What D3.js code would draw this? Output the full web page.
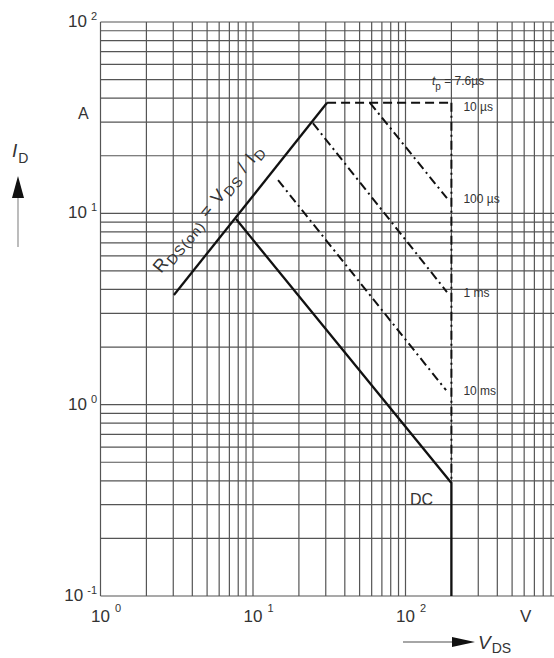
<!DOCTYPE html>
<html>
<head>
<meta charset="utf-8">
<script src="https://cdn.jsdelivr.net/npm/d3@7"></script>
<style>
  body { margin: 0; background: #fff; }
  text { font-family: "Liberation Sans", Arial, sans-serif; fill: #333; }
</style>
</head>
<body>
<script>
/********************************************************/
// Safe operating area values (V, A)

const vdsTicks = [1, 10, 100];
const vdsExp = ["0", "1", "2"];
const idTicks = [0.1, 1, 10, 100];
const idExp = ["-1", "0", "1", "2"];

// R_DS(on) limit
const rdsV = [3.03, 30.6];
const rdsI = [3.74, 37.8];

// tp = 10 us, flat current limit
const us10V = [30.6, 200];
const us10I = [37.8, 37.8];

// tp = 7.6 us, voltage limit
const tpV = [200, 200];
const tpI = [37.8, 0.39];

const us100V = [58.5, 187];
const us100I = [37.8, 12.0];

const ms1V = [24.7, 187];
const ms1I = [29.6, 3.88];

const ms10V = [14.6, 184.5];
const ms10I = [14.9, 1.19];

const dcV = [7.74, 200, 200];
const dcI = [9.33, 0.39, 0.1];

const pulseLabels = ["10 µs", "100 µs", "1 ms", "10 ms"];
const pulseLabelI = [37.8, 12.0, 3.88, 1.19];

/********************************************************/
const svgWidth = 554;
const svgHeight = 658;

const svg = d3
  .select("body")
  .append("svg")
  .attr("width", svgWidth)
  .attr("height", svgHeight);

/************** scales ************/
const xScale = d3.scaleLog().domain([1, 1000]).range([100.5, 558]);
const yScale = d3.scaleLog().domain([0.1, 100]).range([596, 22]);

const zip = (xs, ys) => xs.map((v, i) => [v, ys[i]]);

/************** grid ************/
const xGrid = [];
const yGrid = [];
for (let e = 0; e < 3; e++) for (let m = 1; m <= 9; m++) xGrid.push(m * Math.pow(10, e));
for (let e = -1; e < 2; e++) for (let m = 1; m <= 9; m++) yGrid.push(m * Math.pow(10, e));
yGrid.push(100);

const grid = svg.append("g").attr("stroke", "#555").attr("stroke-width", 1.2);

grid.selectAll(".vline")
  .data(xGrid)
  .enter()
  .append("line")
  .attr("x1", (d) => xScale(d))
  .attr("x2", (d) => xScale(d))
  .attr("y1", yScale(100))
  .attr("y2", yScale(0.1));

grid.selectAll(".hline")
  .data(yGrid)
  .enter()
  .append("line")
  .attr("x1", xScale(1))
  .attr("x2", xScale(1000))
  .attr("y1", (d) => yScale(d))
  .attr("y2", (d) => yScale(d));

/************** tick labels ************/
const yLab = svg.selectAll(".ylab")
  .data(idTicks)
  .enter()
  .append("text")
  .attr("x", 97)
  .attr("y", (d) => yScale(d) + 5)
  .attr("text-anchor", "end")
  .attr("font-size", "17px");
yLab.append("tspan").text("10");
yLab.append("tspan")
  .text((d, i) => idExp[i])
  .attr("dx", 4)
  .attr("dy", -7)
  .attr("font-size", "11px");

const xLab = svg.selectAll(".xlab")
  .data(vdsTicks)
  .enter()
  .append("text")
  .attr("x", (d) => xScale(d) - 9.5)
  .attr("y", 622)
  .attr("font-size", "17px");
xLab.append("tspan").text("10");
xLab.append("tspan")
  .text((d, i) => vdsExp[i])
  .attr("dx", 5)
  .attr("dy", -10)
  .attr("font-size", "11px");

svg.append("text").text("V").attr("x", 520).attr("y", 622).attr("font-size", "17px");
svg.append("text").text("A").attr("x", 78).attr("y", 119).attr("font-size", "16px");

/************** axis titles + arrows ************/
const idTitle = svg.append("text").attr("x", 12).attr("y", 157).attr("font-size", "19px");
idTitle.append("tspan").text("I").attr("font-style", "italic");
idTitle.append("tspan").text("D").attr("font-size", "14px").attr("dy", 6).attr("dx", 1);

svg.append("line")
  .attr("x1", 18).attr("x2", 18).attr("y1", 247).attr("y2", 196)
  .attr("stroke", "#999").attr("stroke-width", 1.3);
svg.append("path").attr("d", "M12,198 L18,176 L24,198 Z").attr("fill", "#111");

const vdsTitle = svg.append("text").attr("x", 478).attr("y", 649).attr("font-size", "19px");
vdsTitle.append("tspan").text("V").attr("font-style", "italic");
vdsTitle.append("tspan").text("DS").attr("font-size", "14px").attr("dy", 4).attr("dx", 1);

svg.append("line")
  .attr("x1", 403).attr("x2", 454).attr("y1", 642).attr("y2", 642)
  .attr("stroke", "#888").attr("stroke-width", 1.3);
svg.append("path").attr("d", "M452,637 L475,642 L452,647 Z").attr("fill", "#111");

/************** curves ************/
const line = d3.line()
  .x((d) => xScale(d[0]))
  .y((d) => yScale(d[1]));

const curves = svg.append("g").attr("fill", "none").attr("stroke", "#111");

curves.append("path").attr("d", line(zip(rdsV, rdsI))).attr("stroke-width", 2.3);
curves.append("path").attr("d", line(zip(dcV, dcI))).attr("stroke-width", 2.3);

curves.append("path")
  .attr("d", line(zip(us10V, us10I)))
  .attr("stroke-width", 2)
  .attr("stroke-dasharray", "9,5");

[zip(tpV, tpI), zip(us100V, us100I), zip(ms1V, ms1I), zip(ms10V, ms10I)].forEach((pts) => {
  curves.append("path")
    .attr("d", line(pts))
    .attr("stroke-width", 2)
    .attr("stroke-dasharray", "9,4,2,4");
});

/************** curve labels ************/
svg.selectAll(".plab")
  .data(pulseLabels)
  .enter()
  .append("text")
  .text((d) => d)
  .attr("x", xScale(200) + 12)
  .attr("y", (d, i) => yScale(pulseLabelI[i]) + (i === 0 ? 8 : 5))
  .attr("font-size", "12px");

const tpLab = svg.append("text").attr("x", 432).attr("y", 85).attr("font-size", "12px");
tpLab.append("tspan").text("t").attr("font-style", "italic");
tpLab.append("tspan").text("p").attr("font-size", "10px").attr("dy", 5);
tpLab.append("tspan").text(" = 7.6µs").attr("dy", -5);

svg.append("text").text("DC").attr("x", 410).attr("y", 505).attr("font-size", "16px");

/************** R_DS(on) label along the line ************/
const ang = -50;
const rdsLab = svg.append("text")
  .attr("transform", `translate(161,274) rotate(${ang})`)
  .attr("font-size", "18px")
  .attr("textLength", 160)
  .attr("lengthAdjust", "spacing");
rdsLab.append("tspan").text("R");
rdsLab.append("tspan").text("DS(on)").attr("font-size", "14px").attr("dy", 4);
rdsLab.append("tspan").text(" = V").attr("dy", -4);
rdsLab.append("tspan").text("DS").attr("font-size", "14px").attr("dy", 4);
rdsLab.append("tspan").text(" / I").attr("dy", -4);
rdsLab.append("tspan").text("D").attr("font-size", "14px").attr("dy", 4);
</script>
</body>
</html>
